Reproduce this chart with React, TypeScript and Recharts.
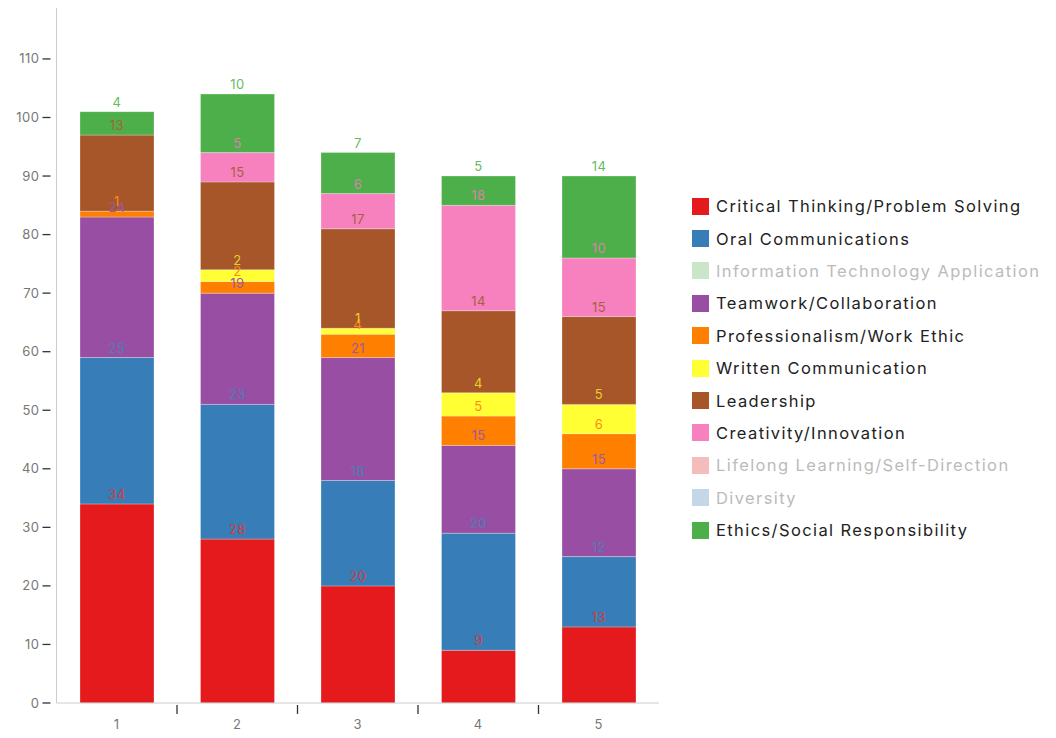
import React from "react";
import { BarChart, Bar, XAxis, YAxis, LabelList, Legend } from "recharts";

const categories = ["1", "2", "3", "4", "5"];
const criticalThinking = [34, 28, 20, 9, 13];
const oralCommunications = [25, 23, 18, 20, 12];
const teamwork = [24, 19, 21, 15, 15];
const professionalism = [1, 2, 4, 5, 6];
const writtenCommunication = [null, 2, 1, 4, 5];
const leadership = [13, 15, 17, 14, 15];
const creativity = [null, 5, 6, 18, 10];
const ethics = [4, 10, 7, 5, 14];
const yTicks = [0, 10, 20, 30, 40, 50, 60, 70, 80, 90, 100, 110];

const series = [
  { key: "critical", name: "Critical Thinking/Problem Solving", color: "#e41a1c", values: criticalThinking, hidden: false },
  { key: "oral", name: "Oral Communications", color: "#377eb8", values: oralCommunications, hidden: false },
  { key: "it", name: "Information Technology Application", color: "#c9e6c8", values: null, hidden: true },
  { key: "team", name: "Teamwork/Collaboration", color: "#984ea3", values: teamwork, hidden: false },
  { key: "prof", name: "Professionalism/Work Ethic", color: "#ff7f00", values: professionalism, hidden: false },
  { key: "written", name: "Written Communication", color: "#ffff33", values: writtenCommunication, hidden: false },
  { key: "lead", name: "Leadership", color: "#a65628", values: leadership, hidden: false },
  { key: "creat", name: "Creativity/Innovation", color: "#f781bf", values: creativity, hidden: false },
  { key: "life", name: "Lifelong Learning/Self-Direction", color: "#f5bcbc", values: null, hidden: true },
  { key: "div", name: "Diversity", color: "#c3d7e9", values: null, hidden: true },
  { key: "ethics", name: "Ethics/Social Responsibility", color: "#4daf4a", values: ethics, hidden: false },
];

const labelColors: Record<string, string> = {
  critical: "#d93a3c",
  oral: "#4a7fb5",
  team: "#9a5aa5",
  prof: "#ff8a1a",
  written: "#e8cf2a",
  lead: "#a8603a",
  creat: "#d982a8",
  ethics: "#66bb63",
};

const data = categories.map((c, i) => {
  const row: Record<string, any> = { name: c };
  series.forEach((s) => {
    if (s.values) row[s.key] = s.values[i];
  });
  return row;
});

const FONT = "Inter, 'DejaVu Sans', sans-serif";

const XTick = (props: any) => {
  const { x, y, payload, index } = props;
  const off = payload && payload.offset ? payload.offset : 60;
  return (
    <g>
      <text x={x} y={y + 26} textAnchor="middle" fill="#777" fontSize={13} fontFamily={FONT} letterSpacing={0.5}>
        {payload.value}
      </text>
      {index < categories.length - 1 && (
        <line x1={x + off} x2={x + off} y1={y + 2} y2={y + 11} stroke="#333" strokeWidth={1.3} />
      )}
    </g>
  );
};

const YTick = (props: any) => {
  const { x, y, payload } = props;
  return (
    <g>
      <line x1={x - 14} x2={x - 6} y1={y} y2={y} stroke="#333" strokeWidth={1.3} />
      <text x={x - 17} y={y + 4.5} textAnchor="end" fill="#777" fontSize={13} fontFamily={FONT} letterSpacing={0.5}>
        {payload.value}
      </text>
    </g>
  );
};

const LegendContent = () => (
  <div style={{ fontFamily: FONT }}>
    {series.map((s) => (
      <div key={s.key} style={{ display: "flex", alignItems: "center", height: 32.4 }}>
        <div style={{ width: 17, height: 17, background: s.color, marginRight: 7 }} />
        <span
          style={{
            fontSize: 16.5,
            letterSpacing: 1.4,
            color: s.hidden ? "#bbb" : "#222",
            whiteSpace: "nowrap",
          }}
        >
          {s.name}
        </span>
      </div>
    ))}
  </div>
);

export default function App() {
  return (
    <BarChart
      width={1048}
      height={730}
      data={data}
      margin={{ top: 0, right: 397, bottom: 0, left: 0 }}
      barCategoryGap="19.5%"
    >
      <XAxis
        dataKey="name"
        height={35}
        axisLine={{ stroke: "#ccc" }}
        tickLine={false}
        tickSize={0}
        tickMargin={0}
        tick={<XTick />}
        interval={0}
      />
      <YAxis
        width={48.5}
        domain={[0, 118.7]}
        ticks={yTicks}
        axisLine={{ stroke: "#ccc" }}
        tickLine={false}
        tickSize={0}
        tickMargin={0}
        tick={<YTick />}
        allowDataOverflow
      />
      <Legend
        layout="horizontal"
        align="center"
        verticalAlign="middle"
        content={<LegendContent />}
        wrapperStyle={{ left: 684, top: 182, width: 372 }}
      />
      {series
        .filter((s) => !s.hidden)
        .map((s) => (
          <Bar
            key={s.key}
            dataKey={s.key}
            name={s.name}
            stackId="a"
            fill={s.color}
            stroke="#fff"
            strokeOpacity={0.35}
            strokeWidth={0.8}
            isAnimationActive={false}
          >
            <LabelList
              dataKey={s.key}
              position="top"
              offset={5}
              fill={labelColors[s.key]}
              fontSize={13}
              fontFamily={FONT}
              letterSpacing={0.5}
            />
          </Bar>
        ))}
    </BarChart>
  );
}
